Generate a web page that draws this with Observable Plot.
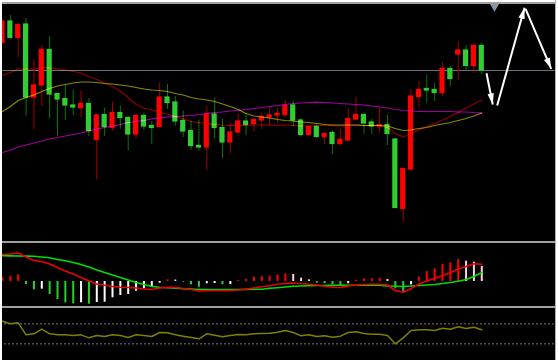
<!DOCTYPE html>
<html><head><meta charset="utf-8">
<script src="https://cdn.jsdelivr.net/npm/d3@7"></script>
<script src="https://cdn.jsdelivr.net/npm/@observablehq/plot@0.6"></script>
<style>
html,body{margin:0;padding:0;background:#fff;}
#chart{position:relative;width:558px;height:360px;background:#000;overflow:hidden;}
#chart svg{position:absolute;left:0;display:block;}
.ov{position:absolute;z-index:5;}
</style></head><body><div id="chart"></div>
<script>
// ---- candles (price units) ----
const open  = [207.5,229,212.5,226,153,165,200.5,156.5,151.5,145, 142.5,146.5,110.5,135.5,122.5,137.5,132.5,116,134.5,124.5, 123.5,153,148,129.5,119.5,104.5,103,136,122.5,108, 118,129,126.5,130,133,135,135.5,145,130,115.5, 123.5,113.5,117.5,106.5,110,131,135.5,128,124,125.5, 111,41.5,81,153.5,161.5,160.5,157.5,181.5,196,200, 184.5,204.5];
const high  = [229,235,227,231.5,191,205,214,157,165,160.5, 159,152,136,142.5,148.5,144.5,134,135,137.5,129, 167.5,166,154,139.5,129.5,130,144,152.5,131,127.5, 136,136.5,132,137,142,142.5,150,149.5,131.5,125, 125.5,117,119.5,121.5,142,153.5,137.5,131.5,142.5,135, 112,82,161,168.5,175.5,167,187.5,184,208.5,205, 207.5,207.5];
const low   = [207,212.5,193,134.5,121,144,131.5,114,130,135, 133,114,70.5,114,119.5,121.5,99.5,111.5,120,106, 123,141,124.5,113,100,100,80,112,91.5,96.5, 114.5,115,118.5,121,124,127.5,133.5,123.5,113.5,115.5, 112,106,96,104,109,129.5,116.5,116,117.5,105, 42,28.5,78.5,142.5,147.5,149,153.5,164,170,179.5, 177,176];
const close = [229,212.5,225.5,153,165,200.5,156,151,145,143, 146.5,119.5,135,123.5,137.5,132.5,116,134.5,124,122.5, 153,147.5,129,119,104.5,103,136,122.5,108,118, 129,125.5,130.5,133.5,135,136.5,144.5,130,115.5,123.5, 113.5,116.5,106.5,110.5,131.5,135.5,127,124,125.5,116.5, 42.5,81.5,154,160.5,160,157.5,181.5,171.5,200,184.5, 204.5,180];
// ---- moving averages ----
const ma1 = [175,178,181.5,181.5,181,183,182.5,181.5,180.5,179, 177.5,174,171,167.5,164,159.5,153,146,142.5,140.5, 138,136.5,134,131.5,129,128,127,126,125.5,125, 125,125,125.5,125.5,125.5,125,125.5,125,124.5,124.5, 125,125,125,124.5,125,125.5,125,125,124.5,123, 117,113.5,117,120.5,124,127,130.5,134,138,142.5, 146.5,150.5];
const ma2 = [139,144,150,153,155.5,159,162,164.5,166,167.5, 168.5,168.5,168,167,166.5,165.5,164.5,163,161.5,160.5, 160,159,157,155.5,153,151.5,150.5,149,146.5,144, 141,137,134.5,133.5,132.5,131,130,129.5,128.5,128, 127,126,125.5,125.5,125.5,125.5,125,125,125,124.5, 122,120,120.5,122,123,125,126.5,128,130,132, 134.5,137.5];
const ma3 = [98,100.5,103.5,105.5,107.5,109.5,111.5,113,114.5,116, 117.5,119.5,121.5,123,124.5,126,128,129,130,131.5, 132.5,133.5,134,134.5,135,136,137,138,138.5,139.5, 140,141,142,143,144,145,146,147,147.5,148, 148.3,148,147.5,147,146.5,146,145.5,144.5,143.5,142.5, 141,140,139.5,139,139,139,139,139,138.5,138.5, 138,137.7];
// ---- MACD ----
const macdHist = [3.7,5,6.7,-3,-8.3,-7.7,-13,-18,-21.3,-22.3, -21.3,-22.7,-21,-20.7,-16.3,-14,-13,-9.7,-7.3,-5.7, -1.7,1.7,1.5,-0.7,-3.3,-5.7,-2.3,-2,-3.3,-3, 1,2,4.3,5,5.3,6.7,7.7,7,3.3,1.7, -1.7,-2.3,-3.3,-4,-2.3,1,2.7,2.8,3.3,2, -7.3,-10.7,-3.3,4.3,10,12.7,17,18.7,22,20.3, 19.3,15];
const dif = [27,27.5,28.5,24.5,21,20,17.5,14,10.5,7.5, 4,0.5,-2.5,-3.8,-5,-5.8,-6,-6.5,-7.5,-8, -6.5,-5.8,-6,-7,-8,-9.5,-9.3,-9,-9,-9, -8.5,-7.8,-6.5,-5.3,-4.3,-2.7,-2,-1.5,-2.3,-2.8, -3.5,-4.7,-5.7,-6,-4.5,-3.8,-3,-2.8,-2.7,-3.5, -9,-10.7,-7,-2.5,0.5,3,6,8.7,12.5,15, 17.7,17.3];
const dea = [25.7,25.6,25.5,25.4,25.3,24.5,23.7,22,20.7,19, 17,14.5,11.5,9,6.5,4,1.5,-1,-3,-5, -5.8,-6.3,-6.8,-7.2,-7.6,-8,-8,-8,-8,-8, -8,-7.9,-7.8,-7.7,-6.8,-6.2,-5.5,-4.8,-4.5,-4.2, -4,-4,-3.9,-3.8,-3.7,-3.7,-3.7,-3.7,-3.7,-4.5, -4.8,-5,-4.5,-4,-3.5,-3,-2,-1,0.2,2, 5,9];
// ---- oscillator ----
const osc = [88,80,83,47,50,64,50,47,47,45, 47,38,45,42,47,45,39,47,45,42, 54,53,47,43,39,35,50,46,41,45, 48,47,50,51,52,55,60,54,44,47, 42,44,40,43,54,56,51,49,49,45, 20,38,60,62,62,60,67,64,71,66, 70,62];
const oscLevels = [80, 20];
// ---- projection arrows & marker ----
const arrowX1 = [61.6, 62.96, 66.57];
const arrowY1 = [177.3, 145, 241.7];
const arrowX2 = [62.4, 66.44, 69.84];
const arrowY2 = [146, 242.7, 181.7];
const markerX = [62.62];
const markerY = [245];

const idx = d3.range(close.length);
const xDomain = [-0.255, 70.765];
const W = 558;
const pxPerBar = W / (xDomain[1] - xDomain[0]);
const up = i => close[i] >= open[i];

// narrow filled arrowhead, tip at the origin, pointing up
const headSymbol = {draw(ctx) { ctx.moveTo(0, 0); ctx.lineTo(-3.2, 11); ctx.lineTo(3.2, 11); ctx.closePath(); }};
const aIdx = d3.range(arrowX1.length);
const headAngle = j => Math.atan2((arrowX2[j] - arrowX1[j]) * pxPerBar, arrowY2[j] - arrowY1[j]) * 180 / Math.PI;

const main = Plot.plot({
  width: W, height: 240, margin: 0,
  x: {domain: xDomain, axis: null},
  y: {domain: [10, 250], axis: null},
  style: {background: "#000"},
  marks: [
    Plot.ruleY([close[close.length - 1]], {stroke: "#687080", strokeWidth: 1}),
    Plot.ruleX(idx, {x: i => i, y1: i => low[i], y2: i => high[i], stroke: i => up(i) ? "#a00000" : "#007a00", strokeWidth: 1}),
    Plot.rect(idx, {x1: i => i - 0.33, x2: i => i + 0.33, y1: i => open[i], y2: i => close[i], fill: i => up(i) ? "#ff0000" : "#32cd32", insetTop: -0.6, insetBottom: -0.6}),
    Plot.line(idx, {x: i => i, y: i => ma3[i], stroke: "#a000a0", strokeWidth: 1.2, mixBlendMode: "screen"}),
    Plot.line(idx, {x: i => i, y: i => ma2[i], stroke: "#8a8a00", strokeWidth: 1.2, mixBlendMode: "screen"}),
    Plot.line(idx, {x: i => i, y: i => ma1[i], stroke: "#900000", strokeWidth: 1.2, mixBlendMode: "screen"}),
    Plot.dot(markerX, {x: d => d, y: (d, j) => markerY[j], symbol: "triangle", rotate: 180, r: 4, fill: "#8796a6", stroke: null}),
    Plot.link(aIdx, {x1: j => arrowX1[j], y1: j => arrowY1[j], x2: j => arrowX2[j], y2: j => arrowY2[j], stroke: "#ffffff", strokeWidth: 2}),
    Plot.dot(aIdx, {x: j => arrowX2[j], y: j => arrowY2[j], symbol: headSymbol, rotate: headAngle, fill: "#ffffff", stroke: null, r: 4})
  ]
});
main.style.top = "0px";

const histColor = i => {
  const v = macdHist[i], p = i > 0 ? macdHist[i - 1] : 0;
  if (v >= 0) return (i === 0 || v >= p) ? "#ff0000" : "#ffd0da";
  return v <= p ? "#2ecc2e" : "#ffffff";
};

const macd = Plot.plot({
  width: W, height: 63, margin: 0,
  x: {domain: xDomain, axis: null},
  y: {domain: [-25, 38], axis: null},
  style: {background: "#000"},
  marks: [
    Plot.ruleX(idx, {x: i => i, y1: 0, y2: i => macdHist[i], stroke: histColor, strokeWidth: 2}),
    Plot.line(idx, {x: i => i, y: i => dea[i], stroke: "#00dd00", strokeWidth: 1.6}),
    Plot.line(idx, {x: i => i, y: i => dif[i], stroke: "#ee0000", strokeWidth: 1.6})
  ]
});
macd.style.top = "243px";

const lower = Plot.plot({
  width: W, height: 52, margin: 0,
  x: {domain: xDomain, axis: null},
  y: {domain: [-30, 126], axis: null},
  style: {background: "#000"},
  marks: [
    Plot.ruleY(oscLevels, {stroke: "#7a7a7a", strokeWidth: 1, strokeDasharray: "2,2"}),
    Plot.line(idx, {x: i => i, y: i => osc[i], stroke: "#808000", strokeWidth: 1.5})
  ]
});
lower.style.top = "308px";

const chart = document.getElementById("chart");
chart.append(main, macd, lower);

function ov(l, t, w, h, c) {
  const d = document.createElement("div");
  d.className = "ov";
  Object.assign(d.style, {left: l + "px", top: t + "px", width: w + "px", height: h + "px", background: c});
  chart.appendChild(d);
}
ov(0, 0, 558, 2, "#ffffff");      // top white edge
ov(0, 2, 556, 1.5, "#a0a0a0");    // top border
ov(0, 241, 556, 2, "#a0a0a0");    // separator MACD
ov(0, 306, 556, 2, "#a0a0a0");    // separator oscillator
ov(0, 0, 2, 360, "#ffffff");      // left white edge
ov(556, 0, 2, 360, "#ffffff");    // right white edge
ov(555, 0, 1, 360, "#b0b0b0");    // right border
</script></body></html>
